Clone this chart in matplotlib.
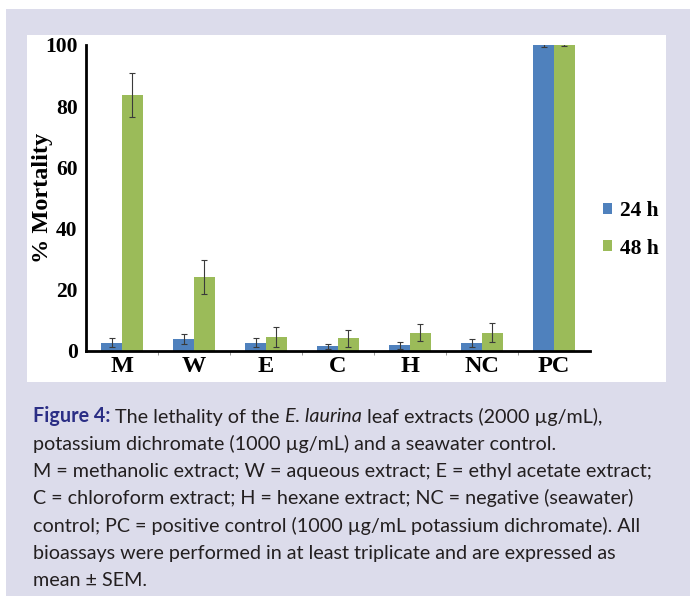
import matplotlib
matplotlib.use("Agg")
import matplotlib.pyplot as plt
from matplotlib.patches import Rectangle
import numpy as np

# data
groups = ["M", "W", "E", "C", "H", "NC", "PC"]
mort_24h = [2.7, 3.9, 2.7, 1.6, 1.8, 2.6, 100]
err_24h = [1.5, 1.7, 1.5, 0.8, 1.2, 1.3, 0.6]
mort_48h = [83.7, 24.2, 4.5, 4.1, 6.0, 6.0, 100]
err_48h = [7.3, 5.7, 3.3, 2.9, 2.8, 3.1, 0.2]
series = ["24 h", "48 h"]
yticks = [0, 20, 40, 60, 80, 100]

caption = [
    [("Figure 4:", "bold", "normal", "#2b2e85"), (" The lethality of the ", "normal", "normal", "#231f20"),
     ("E. laurina", "normal", "italic", "#231f20"), (" leaf extracts (2000 µg/mL),", "normal", "normal", "#231f20")],
    [("potassium dichromate (1000 µg/mL) and a seawater control.", "normal", "normal", "#231f20")],
    [("M = methanolic extract; W = aqueous extract; E = ethyl acetate extract;", "normal", "normal", "#231f20")],
    [("C = chloroform extract; H = hexane extract; NC = negative (seawater)", "normal", "normal", "#231f20")],
    [("control; PC = positive control (1000 µg/mL potassium dichromate). All", "normal", "normal", "#231f20")],
    [("bioassays were performed in at least triplicate and are expressed as", "normal", "normal", "#231f20")],
    [("mean ± SEM.", "normal", "normal", "#231f20")],
]

W, H = 690, 605
BLUE = "#4f81bd"
GREEN = "#9bbb59"
serif = "Liberation Serif"

fig = plt.figure(figsize=(W / 100, H / 100), dpi=100)
fig.patch.set_facecolor("white")


def px_rect(x0, y0, x1, y1, color):
    fig.add_artist(Rectangle((x0 / W, 1 - y1 / H), (x1 - x0) / W, (y1 - y0) / H,
                             transform=fig.transFigure, color=color, lw=0, zorder=-10))


px_rect(6, 9, 690, 596, "#dcdceb")
px_rect(27, 35, 666, 382, "white")

ax = fig.add_axes([86 / W, 1 - 351 / H, (590 - 86) / W, (351 - 45) / H])
ax.set_facecolor("none")

x = np.arange(len(groups))
bw = 0.285
ekw = dict(ecolor="#3a3a3a", elinewidth=0.8, capsize=2.2, capthick=0.8)
ax.bar(x - bw / 2, mort_24h, bw, yerr=err_24h, color=BLUE, label=series[0], error_kw=ekw, zorder=2)
ax.bar(x + bw / 2, mort_48h, bw, yerr=err_48h, color=GREEN, label=series[1], error_kw=ekw, zorder=2)

ax.set_xlim(-0.5, len(groups) - 0.5)
ax.set_ylim(0, 100)
ax.set_yticks(yticks)
ax.set_yticklabels([str(t) for t in yticks], fontfamily=serif, fontweight="bold", fontsize=15.5)
ax.tick_params(axis="y", length=0, pad=6)
ax.set_xticks(x)
ax.set_xticklabels(groups, fontfamily=serif, fontweight="bold", fontsize=17.5)
ax.tick_params(axis="x", which="major", length=0, pad=3.5)
ax.set_xticks(np.arange(0.5, len(groups) - 1), minor=True)
ax.tick_params(axis="x", which="minor", length=3, width=0.6, color="#888888", direction="out")

for s in ["top", "right"]:
    ax.spines[s].set_visible(False)
for s in ["left", "bottom"]:
    ax.spines[s].set_linewidth(2)
    ax.spines[s].set_color("black")

ax.set_ylabel("% Mortality", fontfamily=serif, fontweight="bold", fontsize=17.5)
ax.yaxis.set_label_coords(-0.0655, 0.5)

leg = ax.legend(loc="center left", bbox_to_anchor=(603 / W, 1 - 230 / H), bbox_transform=fig.transFigure,
                frameon=False, borderpad=0, borderaxespad=0, handlelength=0.4, handleheight=0.4,
                handletextpad=0.4, labelspacing=0.8,
                prop=dict(family=serif, weight="bold", size=15.5))

# caption, drawn piece by piece
fig.canvas.draw()
renderer = fig.canvas.get_renderer()
baselines = [422.5, 449.8, 477.1, 504.4, 531.7, 559.0, 586.3]
for parts, yy in zip(caption, baselines):
    xx = 33
    for txt, weight, style, color in parts:
        t = fig.text(xx / W, 1 - yy / H, txt, fontfamily="Lato", fontsize=14.2, fontweight=weight,
                     fontstyle=style, color=color, va="baseline", ha="left")
        bb = t.get_window_extent(renderer)
        xx = bb.x1

fig.savefig("out.png", dpi=100, facecolor=fig.get_facecolor())
